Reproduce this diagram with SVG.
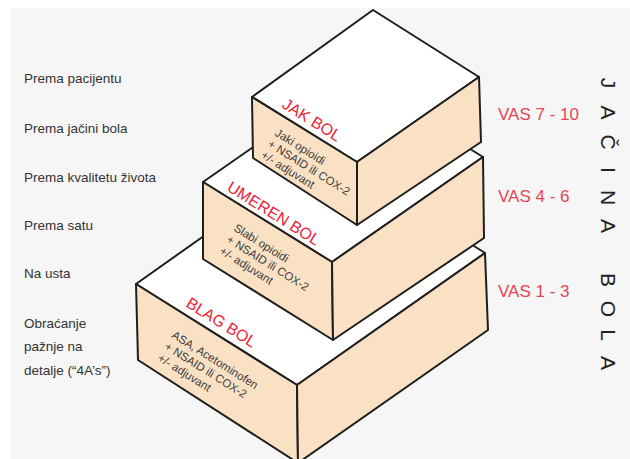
<svg xmlns="http://www.w3.org/2000/svg" width="630" height="459" viewBox="0 0 630 459">
<style>
.face-top{fill:#ffffff;stroke:#1e1e1e;stroke-width:2;stroke-linejoin:round}
.face-side{fill:#fbe1c4;stroke:#1e1e1e;stroke-width:2;stroke-linejoin:round}
.title{font-family:"Liberation Sans",Arial,sans-serif;font-size:16px;fill:#ee2236}
.desc{font-family:"Liberation Sans",Arial,sans-serif;font-size:11.5px;fill:#3a3a3a}
.lbl{font-family:"Liberation Sans",Arial,sans-serif;font-size:13.5px;fill:#333333}
.vas{font-family:"Liberation Sans",Arial,sans-serif;font-size:17px;fill:#e84453}
.axis{font-family:"Liberation Sans",Arial,sans-serif;font-size:21px;fill:#222222}
</style>
<rect x="0" y="0" width="630" height="459" fill="#ffffff"/>
<rect x="11" y="8" width="619" height="451" fill="#f6f6f6"/>

<g id="box-blag">
  <polygon class="face-top" points="136,284 324,151 485,253 297,385"/>
  <polygon class="face-side" points="136,284 297,385 298,463 138,360"/>
  <polygon class="face-side" points="297,385 485,253 488,330 298,463"/>
  <text class="title" transform="translate(185,306) rotate(32)" font-size="17">BLAG BOL</text>
  <text class="desc" transform="translate(171,337) rotate(32)"><tspan x="0" y="0">ASA, Acetominofen</tspan><tspan x="0" y="13.5">+ NSAID ili COX-2</tspan><tspan x="0" y="27">+/- adjuvant</tspan></text>
</g>

<g id="box-umeren">
  <polygon class="face-top" points="203,182 354,77 483,157 332,262"/>
  <polygon class="face-side" points="203,182 332,262 333,340 203,259"/>
  <polygon class="face-side" points="332,262 483,157 484,238 333,340"/>
  <text class="title" transform="translate(226,190) rotate(32)" font-size="16.5">UMEREN BOL</text>
  <text class="desc" transform="translate(233,230) rotate(32)"><tspan x="0" y="0">Slabi opioidi</tspan><tspan x="0" y="13.5">+ NSAID ili COX-2</tspan><tspan x="0" y="27">+/- adjuvant</tspan></text>
</g>

<g id="box-jak">
  <polygon class="face-top" points="373,10 252,97 357,162 479,77"/>
  <polygon class="face-side" points="252,97 357,162 357,225 253,158"/>
  <polygon class="face-side" points="357,162 479,77 481,142 357,225"/>
  <text class="title" transform="translate(281,107) rotate(32)">JAK BOL</text>
  <text class="desc" transform="translate(274,135) rotate(32)"><tspan x="0" y="0">Jaki opioidi</tspan><tspan x="0" y="13">+ NSAID ili COX-2</tspan><tspan x="0" y="26">+/- adjuvant</tspan></text>
</g>

<g id="labels-left">
  <text class="lbl" x="24" y="83">Prema pacijentu</text>
  <text class="lbl" x="24" y="133">Prema jačini bola</text>
  <text class="lbl" x="24" y="182">Prema kvalitetu života</text>
  <text class="lbl" x="24" y="230">Prema satu</text>
  <text class="lbl" x="24" y="278">Na usta</text>
  <text class="lbl" x="24" y="328">Obraćanje</text>
  <text class="lbl" x="24" y="351">pažnje na</text>
  <text class="lbl" x="24" y="375">detalje (“4A’s”)</text>
</g>

<g id="labels-vas">
  <text class="vas" x="498" y="120">VAS 7 - 10</text>
  <text class="vas" x="498" y="202">VAS 4 - 6</text>
  <text class="vas" x="498" y="297">VAS 1 - 3</text>
</g>

<g id="axis-label">
  <text class="axis" transform="translate(601,0) rotate(90)" text-anchor="middle" x="83 112.5 142 170 197.5 226 280 309 335 363" y="0">JAČINABOLA</text>
</g>

<g id="connectors"/>
</svg>
